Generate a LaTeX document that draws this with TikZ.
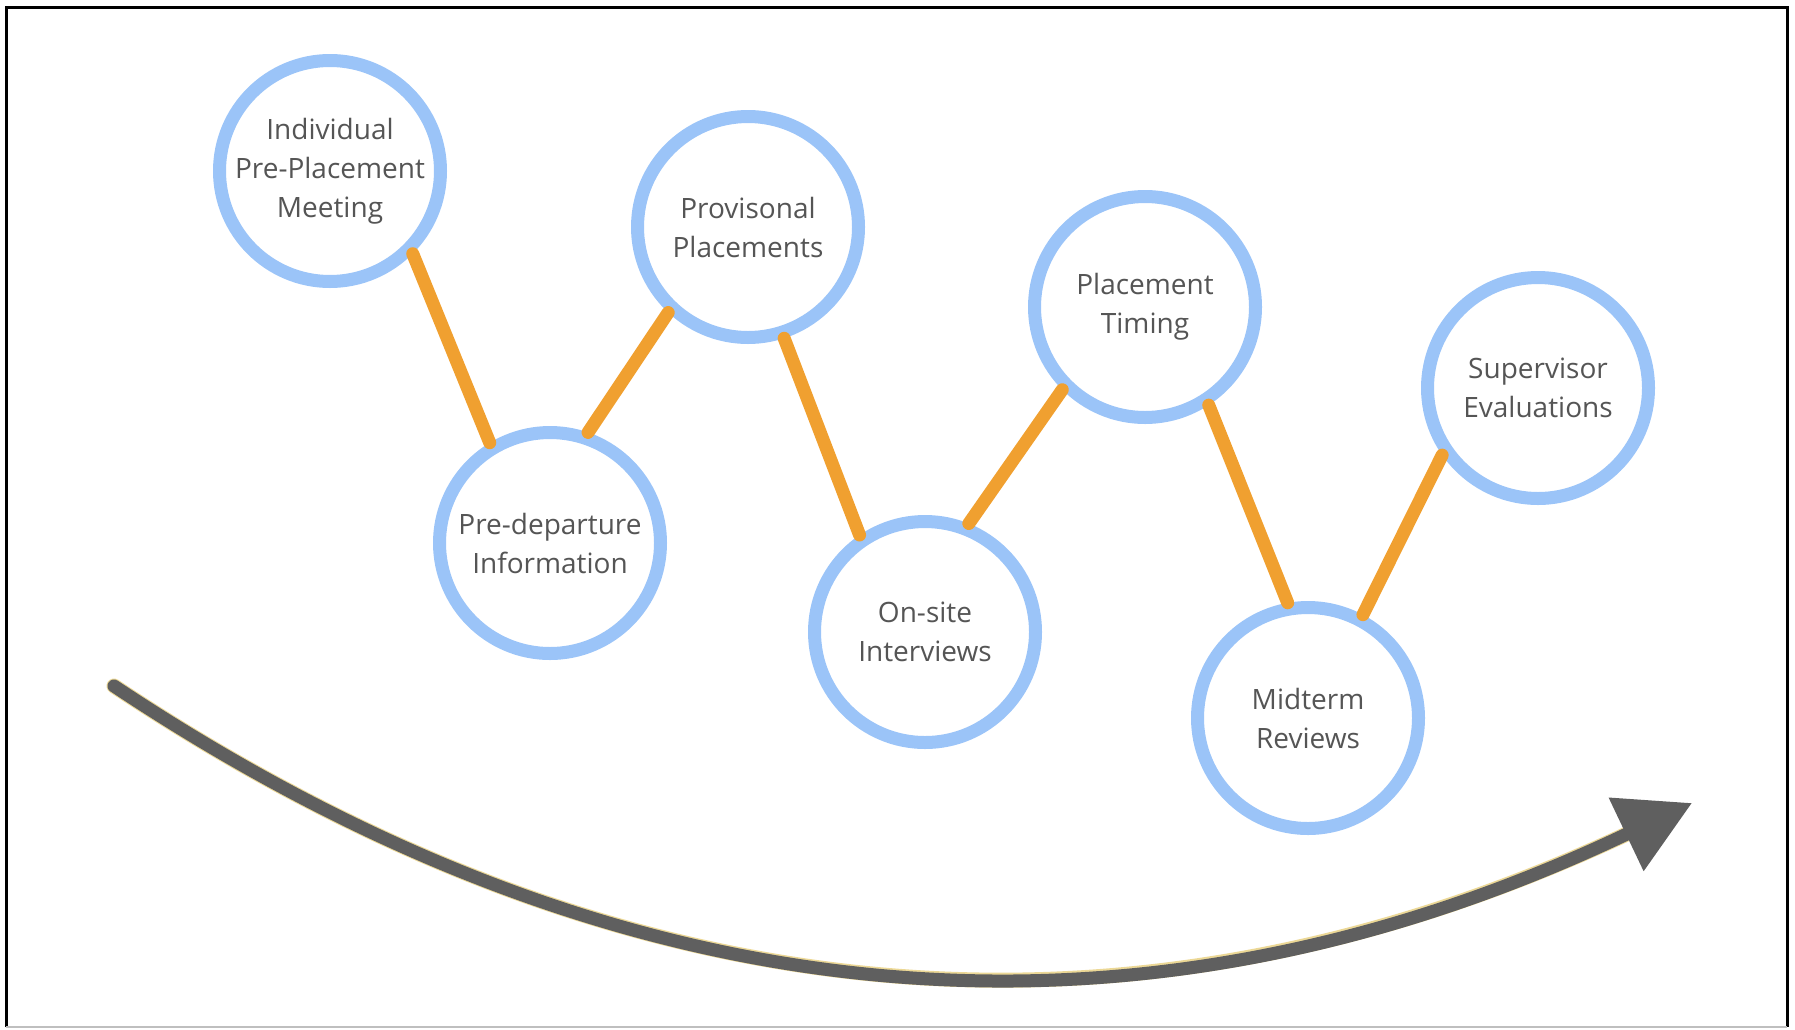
\documentclass[tikz,border=0pt]{standalone}
\usepackage{fontspec}
\setmainfont{Open Sans}
\usetikzlibrary{arrows.meta}
\definecolor{ringblue}{RGB}{155,196,248}
\definecolor{linkorange}{RGB}{240,160,48}
\definecolor{labelgray}{RGB}{85,85,85}
\definecolor{arrowgray}{RGB}{95,95,95}
\definecolor{glowyellow}{RGB}{236,216,150}
\begin{document}
\begin{tikzpicture}[x=1pt,y=-1pt,
	stage/.style={circle, draw=ringblue, line width=13pt, fill=white, minimum size=221pt, inner sep=0pt, align=center, text=labelgray, font=\fontsize{28}{39}\selectfont},
	link/.style={linkorange, line width=13pt, line cap=round}]
	\useasboundingbox (0,0) rectangle (1795,1029);
	\draw[line width=3pt] (6,1027) -- (6,7) -- (1787,7) -- (1787,1027);
	\draw[black!25, line width=1.5pt] (6,1027) -- (1787,1027);
	% stages
	\node[stage] (meeting) at (330,171) {Individual\\Pre-Placement\\Meeting};
	\node[stage] (predep) at (550,543) {Pre-departure\\Information};
	\node[stage] (provis) at (748,227) {Provisonal\\Placements};
	\node[stage] (onsite) at (925,632) {On-site\\Interviews};
	\node[stage] (timing) at (1145,307) {Placement\\Timing};
	\node[stage] (midterm) at (1308,718) {Midterm\\Reviews};
	\node[stage] (superv) at (1538,388) {Supervisor\\Evaluations};
	% links
	\draw[link] (meeting.-45) -- (predep.121);
	\draw[link] (predep.71) -- (provis.-133);
	\draw[link] (provis.-72) -- (onsite.124);
	\draw[link] (onsite.68) -- (timing.-135);
	\draw[link] (timing.-57) -- (midterm.100);
	\draw[link] (midterm.62) -- (superv.-145);
	% time arrow
	\coordinate (start) at (114,686);
	\coordinate (tip) at (1692,803);
	\draw[glowyellow, line width=15pt, line cap=round, shorten >=60pt] (start) .. controls (604,1012) and (1114,1078) .. (tip);
	\draw[arrowgray, line width=13pt, line cap=round, -{Triangle[length=73pt,width=78pt]}] (start) .. controls (604,1012) and (1114,1078) .. (tip);
\end{tikzpicture}
\end{document}
